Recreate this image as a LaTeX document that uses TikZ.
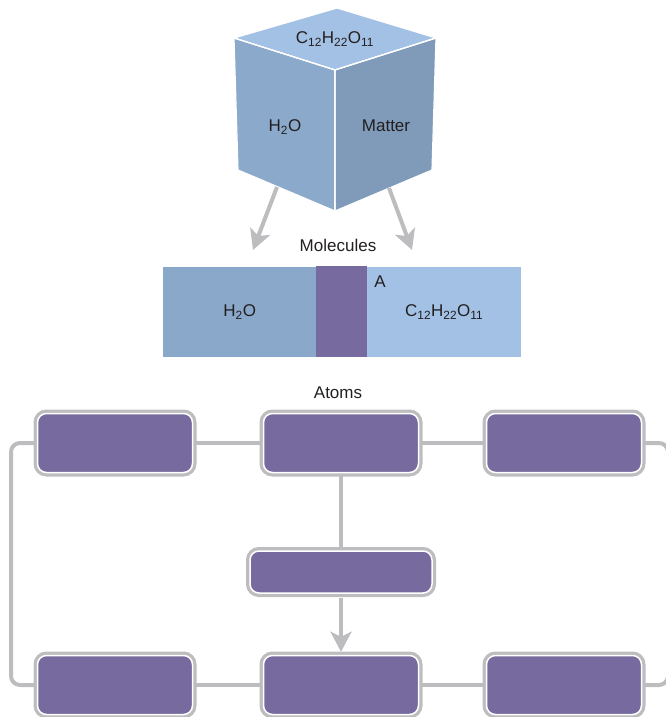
\documentclass[tikz,border=0pt]{standalone}
\usepackage{fontspec}
\setmainfont{Liberation Sans}
\usetikzlibrary{arrows.meta,backgrounds}

\definecolor{topface}{HTML}{A3C1E5}
\definecolor{leftface}{HTML}{8BA9CB}
\definecolor{rightface}{HTML}{7F9BB9}
\definecolor{molL}{HTML}{8AA8C9}
\definecolor{molR}{HTML}{A2C1E5}
\definecolor{atom}{HTML}{776A9F}
\definecolor{wire}{HTML}{BDBDC0}
\definecolor{ink}{HTML}{231F20}

\newcommand\chemsub[1]{\textsubscript{#1}}

\begin{document}
\begin{tikzpicture}[x=1pt,y=-1pt,
  font=\fontsize{17}{20}\selectfont,
  txt/.style={text=ink, inner sep=0pt},
  face/.style={draw=white, line width=1.2pt, line join=round},
  conn/.style={draw=wire, line width=4pt},
  arr/.style={conn, -{Stealth[length=20pt,width=21pt,inset=5pt]}},
  atombox/.style={rounded corners=9pt, fill=atom, draw=white, line width=1.5pt,
    minimum width=155pt, minimum height=59pt, inner sep=0pt,
    preaction={draw=wire, line width=8pt}},
  smallbox/.style={atombox, minimum width=182pt, minimum height=42pt},
  slab/.style={inner sep=0pt, minimum height=90pt, anchor=north west, text=ink},
]
\useasboundingbox (0,0) rectangle (665,717);
\clip (0,0) rectangle (665,717);

% cube: three faces with white edges
\fill[topface, face] (234,38) -- (337,8) -- (436,38) -- (335,70) -- cycle;
\fill[leftface, face] (234,38) -- (335,70) -- (335,211) -- (238,170) -- cycle;
\fill[rightface, face] (335,70) -- (436,38) -- (432,170) -- (335,211) -- cycle;
\draw[face] (234,38) -- (335,70) -- (436,38) (335,70) -- (335,211);
\node[txt] (ctop) at (335,39) {C\chemsub{12}H\chemsub{22}O\chemsub{11}};
\node[txt] (cleft) at (285,127) {H\chemsub{2}O};
\node[txt] (cright) at (386,126) {Matter};
\coordinate (cubeL) at (277,187);
\coordinate (cubeR) at (389,188);

% molecules strip
\node[txt] (mlabel) at (338,245) {Molecules};
\node[slab, fill=molL, minimum width=153pt] (mL) at (163,267) {H\chemsub{2}O};
\node[slab, fill=molR, minimum width=154pt] (mR) at (367,267) {C\chemsub{12}H\chemsub{22}O\chemsub{11}};
\node[inner sep=0pt, fill=atom, minimum width=51pt, minimum height=91pt, anchor=north west] (mA) at (316,266) {};
\node[txt] (alabel) at (380,282) {A};
\coordinate (molLtip) at (253,250);
\coordinate (molRtip) at (412,250);
\draw[arr] (cubeL) -- (molLtip);
\draw[arr] (cubeR) -- (molRtip);

% atoms
\node[txt] (alab) at (338,393) {Atoms};
\node[atombox] (b1) at (115,443) {};
\node[atombox] (b2) at (341,443) {};
\node[atombox] (b3) at (564,443) {};
\node[smallbox] (mid) at (341,572) {};
\node[atombox] (b4) at (115,685) {};
\node[atombox] (b5) at (341,685) {};
\node[atombox] (b6) at (564,685) {};
\coordinate (loopL) at (11,0);
\coordinate (loopR) at (668,0);

% connectors behind the boxes
\begin{scope}[on background layer]
\draw[conn, rounded corners=9pt] (b1.center) -| (loopL |- b4.center) -- (b4.center);
\draw[conn, rounded corners=9pt] (b3.center) -| (loopR |- b6.center) -- (b6.center);
\draw[conn] (b1) -- (b2);
\draw[conn] (b2) -- (b3);
\draw[conn] (b4) -- (b5);
\draw[conn] (b5) -- (b6);
\draw[conn] (b2) -- (mid);
\end{scope}
\draw[arr, shorten <=4pt, shorten >=3pt] (mid.south) -- (b5.north);
\end{tikzpicture}
\end{document}
